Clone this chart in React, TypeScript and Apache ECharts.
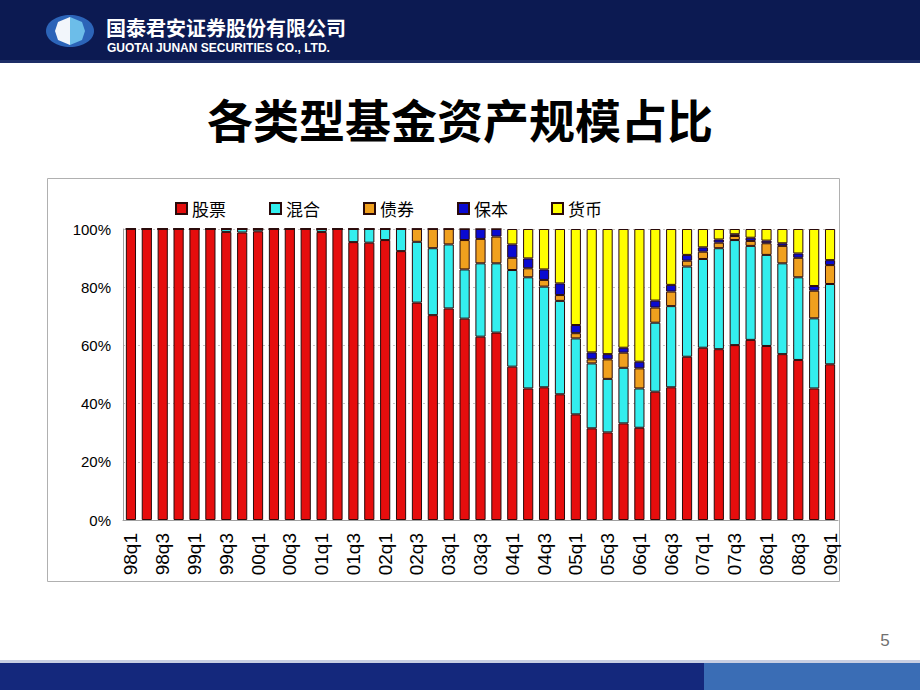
import React, { useEffect, useRef } from "react";
import * as echarts from "echarts";

const categories = [
  "98q1", "98q2", "98q3", "98q4", "99q1", "99q2", "99q3", "99q4",
  "00q1", "00q2", "00q3", "00q4", "01q1", "01q2", "01q3", "01q4",
  "02q1", "02q2", "02q3", "02q4", "03q1", "03q2", "03q3", "03q4",
  "04q1", "04q2", "04q3", "04q4", "05q1", "05q2", "05q3", "05q4",
  "06q1", "06q2", "06q3", "06q4", "07q1", "07q2", "07q3", "07q4",
  "08q1", "08q2", "08q3", "08q4", "09q1",
];

const seriesNames = ["股票", "混合", "债券", "保本", "货币"];

const stock = [
  100, 100, 100, 100, 100, 100, 99, 98.8, 99.2, 100, 100, 100, 99, 100, 95.5, 95.3,
  96.2, 92.4, 74.7, 70.4, 72.7, 69.2, 63.0, 64.4, 52.7, 45.2, 45.6, 43.2, 36.3, 31.5,
  30.1, 33.2, 31.7, 44.1, 45.6, 56.1, 59.2, 58.7, 60.1, 61.9, 59.8, 57.0, 55.0, 45.2, 53.5,
];
const mixed = [
  0, 0, 0, 0, 0, 0, 1, 1.2, 0.8, 0, 0, 0, 1, 0, 4.5, 4.7,
  3.8, 7.6, 20.9, 23.0, 22.0, 16.9, 25.2, 23.8, 33.2, 38.2, 34.6, 32.1, 26.1, 22.3,
  18.4, 19.1, 13.5, 23.7, 27.9, 31.0, 30.5, 34.7, 36.1, 32.3, 31.3, 31.2, 28.4, 24.1, 27.6,
];
const bond = [
  0, 0, 0, 0, 0, 0, 0, 0, 0, 0, 0, 0, 0, 0, 0, 0,
  0, 0, 4.4, 6.6, 5.3, 10.1, 8.4, 9.2, 4.2, 3.1, 2.3, 2.0, 1.8, 1.4,
  6.7, 5.2, 6.9, 5.2, 5.0, 2.0, 2.5, 1.9, 1.4, 1.7, 4.0, 6.0, 6.7, 9.5, 6.5,
];
const guaranteed = [
  0, 0, 0, 0, 0, 0, 0, 0, 0, 0, 0, 0, 0, 0, 0, 0,
  0, 0, 0, 0, 0, 3.8, 3.4, 2.6, 4.6, 3.4, 3.6, 4.0, 2.8, 2.4,
  1.8, 1.7, 2.3, 2.4, 2.3, 2.0, 1.5, 1.1, 0.6, 1.1, 0.9, 0.9, 1.5, 1.6, 1.7,
];
const money = [
  0, 0, 0, 0, 0, 0, 0, 0, 0, 0, 0, 0, 0, 0, 0, 0,
  0, 0, 0, 0, 0, 0, 0, 0, 5.3, 10.1, 13.9, 18.7, 33.0, 42.4,
  43.0, 40.8, 45.6, 24.6, 19.2, 8.9, 6.3, 3.6, 1.8, 3.0, 4.0, 4.9, 8.4, 19.6, 10.7,
];

const yTicks = [0, 20, 40, 60, 80, 100];

const colors = ["#e60d0d", "#33eeee", "#f0a01e", "#0a0ad2", "#ffff00"];

const CJK = "'Noto Sans CJK SC', 'Noto Sans', sans-serif";
const LAT = "'Liberation Sans', Arial, sans-serif";

export default function App() {
  const ref = useRef<HTMLDivElement | null>(null);

  useEffect(() => {
    if (!ref.current) return;
    const chart = echarts.init(ref.current, undefined, { renderer: "svg" });
    const dataSets = [stock, mixed, bond, guaranteed, money];

    chart.setOption({
      animation: false,
      backgroundColor: "#ffffff",
      graphic: [
        { type: "rect", shape: { x: 0, y: 0, width: 920, height: 62 }, style: { fill: "#0c1a52" }, z: 0 },
        { type: "rect", shape: { x: 0, y: 60, width: 920, height: 3 }, style: { fill: "#1d2d66" }, z: 0 },
        { type: "ellipse", shape: { cx: 70, cy: 31, rx: 24, ry: 16 }, style: { fill: "#2c64b8" }, z: 1 },
        {
          type: "polygon",
          shape: { points: [[70, 17], [58, 22], [55, 31], [58, 40], [70, 45]] },
          style: { fill: "#f2f6fb" },
          z: 2,
        },
        {
          type: "polygon",
          shape: { points: [[70, 17], [82, 22], [85, 31], [82, 40], [70, 45]] },
          style: { fill: "#6cbde9" },
          z: 2,
        },
        {
          type: "text",
          x: 106,
          y: 27,
          style: {
            text: "国泰君安证券股份有限公司", fill: "#ffffff",
            font: `bold 20px ${CJK}`, align: "left", verticalAlign: "middle",
            lineHeight: 20,
          },
          z: 2,
        },
        {
          type: "text",
          x: 107,
          y: 48,
          style: {
            text: "GUOTAI JUNAN SECURITIES CO., LTD.", fill: "#ffffff",
            font: `bold 12px ${LAT}`, align: "left", verticalAlign: "middle",
            lineHeight: 12,
          },
          z: 2,
        },
        {
          type: "text",
          x: 460,
          y: 118,
          style: {
            text: "各类型基金资产规模占比", fill: "#000000",
            font: `bold 46px ${CJK}`, align: "center", verticalAlign: "middle",
          },
          z: 2,
        },
        {
          type: "rect",
          shape: { x: 47.5, y: 178.5, width: 792, height: 403 },
          style: { fill: "none", stroke: "#b0b0b0", lineWidth: 1 },
          z: 0,
        },
        {
          type: "text",
          x: 885,
          y: 640,
          style: {
            text: "5", fill: "#707070",
            font: `17px ${LAT}`, align: "center", verticalAlign: "middle",
          },
          z: 2,
        },
        { type: "rect", shape: { x: 0, y: 660, width: 920, height: 3 }, style: { fill: "#c8cfe2" }, z: 0 },
        { type: "rect", shape: { x: 0, y: 663, width: 704, height: 27 }, style: { fill: "#14287c" }, z: 0 },
        { type: "rect", shape: { x: 704, y: 663, width: 216, height: 27 }, style: { fill: "#3a6db5" }, z: 0 },
      ],
      legend: {
        top: 195,
        left: 170,
        itemWidth: 11,
        itemHeight: 11,
        itemGap: 43,
        icon: "rect",
        data: seriesNames,
        textStyle: { fontFamily: CJK, fontSize: 17, color: "#000" },
      },
      grid: { left: 123, right: 82, top: 229, bottom: 170, containLabel: false },
      xAxis: {
        type: "category",
        data: categories,
        axisLine: { show: true, lineStyle: { color: "#a0a0a0", width: 1 } },
        axisTick: { show: false },
        axisLabel: {
          interval: 1,
          rotate: 90,
          margin: 13,
          fontFamily: LAT,
          fontSize: 19,
          color: "#000",
        },
      },
      yAxis: {
        type: "value",
        min: yTicks[0],
        max: yTicks[yTicks.length - 1],
        interval: 20,
        axisLine: { show: true, lineStyle: { color: "#a0a0a0", width: 1 } },
        axisTick: { show: false },
        axisLabel: {
          formatter: "{value}%",
          fontFamily: LAT,
          fontSize: 15,
          color: "#000",
          margin: 12,
        },
        splitLine: { show: true, lineStyle: { color: "#c4c4c4", type: [2, 3], width: 1 } },
      },
      series: seriesNames.map((name, k) => ({
        name,
        type: "bar",
        stack: "total",
        barWidth: "64%",
        data: dataSets[k],
        itemStyle: { color: colors[k], borderColor: "#2a0a0a", borderWidth: 1 },
        emphasis: { disabled: true },
      })),
    });

    return () => {
      chart.dispose();
    };
  }, []);

  return (
    <div
      ref={ref}
      style={{ position: "fixed", left: 0, top: 0, width: 920, height: 690, background: "#fff" }}
    />
  );
}
